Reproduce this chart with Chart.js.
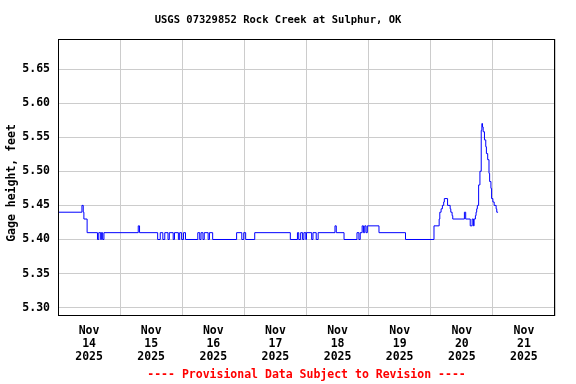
<!DOCTYPE html>
<html><head><meta charset="utf-8">
<script src="https://cdn.jsdelivr.net/npm/chart.js@4"></script>
<style>html,body{margin:0;padding:0;background:#fff}canvas{display:block}</style>
</head><body>
<canvas id="c" width="576" height="384"></canvas>
<script>
const titleText = 'USGS 07329852 Rock Creek at Sulphur, OK';
const yAxisTitle = 'Gage height, feet';
const footerText = '---- Provisional Data Subject to Revision ----';
const monthLabel = 'Nov';
const yearLabel = '2025';
const dayLabels = ['14','15','16','17','18','19','20','21'];
const yTicks = [5.30,5.35,5.40,5.45,5.50,5.55,5.60,5.65];
// hours since Nov 14 2025 00:00 at which the gage height changes
const hours = [0,9.25,9.75,10.0,11.25,15.25,15.75,16.5,16.75,17.25,17.75,31.0,31.5,38.5,39.5,40.5,41.25,42.5,43.0,44.5,45.0,46.5,47.0,47.75,48.5,49.25,
  54.0,54.75,55.25,56.0,56.5,58.0,58.5,59.75,69.0,71.0,71.75,72.5,76.0,89.75,92.5,93.0,93.75,94.5,95.0,95.75,96.0,98.0,98.5,99.75,100.5,
  107.0,107.5,110.5,115.5,116.25,116.75,117.5,118.0,118.5,119.0,119.5,124.0,134.25,145.25,147.25,147.5,148.0,148.5,149.0,149.25,150.5,151.5,151.75,152.25,152.5,
  157.0,157.5,159.25,160.0,160.5,160.75,161.25,161.5,161.75,162.0,162.5,163.0,163.5,163.75,164.0,164.25,164.75,165.25,165.5,166.0,166.5,166.75,167.25,167.5,168.0,168.5,169.25,169.5,170.0];
// gage height, feet
const heights = [5.44,5.45,5.44,5.43,5.41,5.40,5.41,5.40,5.41,5.40,5.41,5.42,5.41,5.40,5.41,5.40,5.41,5.40,5.41,5.40,5.41,5.40,5.41,5.40,5.41,5.40,
  5.41,5.40,5.41,5.40,5.41,5.40,5.41,5.40,5.41,5.40,5.41,5.40,5.41,5.40,5.41,5.40,5.41,5.40,5.41,5.40,5.41,5.40,5.41,5.40,5.41,
  5.42,5.41,5.40,5.41,5.40,5.41,5.42,5.41,5.42,5.41,5.42,5.41,5.40,5.42,5.43,5.44,5.445,5.45,5.455,5.46,5.45,5.445,5.44,5.435,5.43,
  5.44,5.43,5.42,5.43,5.42,5.43,5.435,5.44,5.445,5.45,5.48,5.50,5.56,5.57,5.565,5.558,5.546,5.536,5.526,5.517,5.497,5.485,5.475,5.46,5.455,5.45,5.445,5.44,5.44];

const FONT = 'DejaVu Sans Mono';
const points = hours.map((h, i) => ({x: h, y: heights[i]}));

const decor = {
  id: 'decor',
  afterDraw(chart) {
    const ctx = chart.ctx, a = chart.chartArea;
    ctx.save();
    ctx.strokeStyle = '#000';
    ctx.lineWidth = 1;
    ctx.strokeRect(Math.round(a.left) + 0.5, Math.round(a.top) + 0.5, Math.round(a.right - a.left) - 1, Math.round(a.bottom - a.top) - 1);
    ctx.fillStyle = '#000';
    ctx.textAlign = 'center';
    ctx.textBaseline = 'middle';
    ctx.font = 'bold 10.5px "' + FONT + '"';
    ctx.fillText(titleText, 278, 20);
    ctx.save();
    ctx.translate(12, 183);
    ctx.rotate(-Math.PI / 2);
    ctx.font = 'bold 11.5px "' + FONT + '"';
    ctx.fillText(yAxisTitle, 0, 0);
    ctx.restore();
    ctx.fillStyle = '#ff0000';
    ctx.font = 'bold 11.5px "' + FONT + '"';
    ctx.fillText(footerText, (a.left + a.right) / 2, 375.5);
    ctx.restore();
  }
};

new Chart(document.getElementById('c'), {
  type: 'line',
  data: { datasets: [{ data: points, borderColor: '#0000ff', borderWidth: 1, pointRadius: 0, stepped: true, fill: false }] },
  options: {
    responsive: false, animation: false, devicePixelRatio: 1,
    layout: { padding: { top: 39, right: 21, left: 0, bottom: 0 } },
    plugins: { legend: { display: false }, tooltip: { enabled: false }, title: { display: false } },
    scales: {
      x: {
        type: 'linear', min: 0, max: 192,
        afterBuildTicks: s => { const t = []; for (let h = 0; h <= 192; h += 12) t.push({ value: h }); s.ticks = t; },
        afterFit: s => { s.height = 68; },
        grid: { drawTicks: false, lineWidth: 1, color: c => (c.tick && c.tick.value % 24 === 0) ? '#cccccc' : 'rgba(0,0,0,0)' },
        border: { display: false },
        ticks: {
          autoSkip: false, maxRotation: 0, minRotation: 0, padding: 9, color: '#000',
          font: { family: FONT, weight: 'bold', size: 11.5, lineHeight: 1.1 },
          callback: v => (v % 24 === 12) ? [monthLabel, dayLabels[(v - 12) / 24], yearLabel] : ''
        }
      },
      y: {
        min: 5.2878, max: 5.694,
        afterBuildTicks: s => { s.ticks = yTicks.map(v => ({ value: v })); },
        afterFit: s => { s.width = 58; },
        grid: { drawTicks: false, color: '#cccccc', lineWidth: 1 },
        border: { display: false },
        ticks: { padding: 8, color: '#000', font: { family: FONT, weight: 'bold', size: 11.5 }, callback: v => Number(v).toFixed(2) }
      }
    }
  },
  plugins: [decor]
});
</script>
</body></html>
